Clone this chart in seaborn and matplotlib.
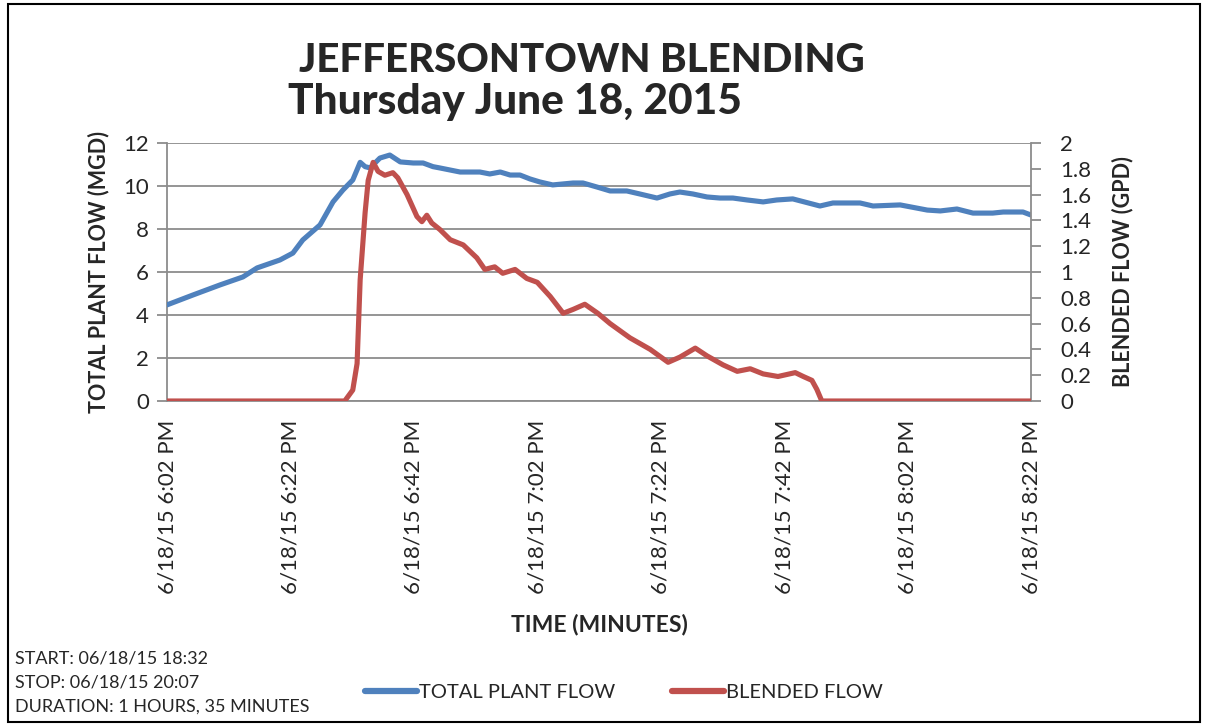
import matplotlib
matplotlib.use("Agg")
import matplotlib.pyplot as plt
import seaborn as sns
import pandas as pd
from matplotlib.lines import Line2D
from matplotlib.patches import Rectangle

# ---- data (minutes after 6:02 PM) ----
plant_minutes = [0.0, 4.2, 8.6, 12.3, 14.6, 18.3, 20.4, 22.0, 24.8, 26.9, 28.5, 30.1,
                 31.3, 32.1, 32.9, 34.5, 36.1, 37.8, 39.9, 41.5, 43.1, 44.2, 47.5,
                 50.7, 52.3, 54.0, 55.6, 57.2, 58.8, 60.4, 62.5, 65.8, 67.4, 69.7,
                 71.8, 74.5, 76.6, 79.4, 81.5, 83.1, 85.2, 87.5, 89.6, 91.7, 94.0,
                 96.6, 98.8, 101.4, 105.8, 107.9, 112.3, 114.4, 118.8, 123.2, 125.3,
                 128.0, 130.6, 133.8, 135.5, 138.7, 140.0]
plant_flow = [4.47, 4.93, 5.40, 5.77, 6.19, 6.56, 6.88, 7.49, 8.19, 9.26, 9.81, 10.28,
              11.10, 10.90, 10.84, 11.30, 11.44, 11.12, 11.07, 11.07, 10.90, 10.84, 10.65,
              10.65, 10.56, 10.65, 10.51, 10.51, 10.33, 10.19, 10.05, 10.14, 10.14, 9.95,
              9.77, 9.77, 9.63, 9.44, 9.63, 9.72, 9.63, 9.49, 9.44, 9.44, 9.35,
              9.26, 9.35, 9.40, 9.07, 9.21, 9.21, 9.07, 9.12, 8.88, 8.84,
              8.93, 8.74, 8.74, 8.79, 8.79, 8.65]

blend_minutes = [0.0, 28.8, 30.1, 30.8, 31.3, 32.1, 32.6, 33.4, 34.2, 35.3, 36.6, 37.4,
                 38.9, 40.5, 41.3, 42.1, 42.9, 44.2, 45.9, 48.0, 50.2, 51.5, 53.1,
                 54.4, 56.4, 58.3, 60.0, 62.1, 64.2, 65.8, 67.7, 69.8, 71.8, 75.0,
                 78.3, 81.2, 83.1, 85.6, 87.5, 90.1, 92.4, 94.5, 96.6, 99.0, 101.8,
                 103.1, 104.5, 105.3, 106.1, 140.0]
blend_flow = [0.0, 0.0, 0.085, 0.29, 0.94, 1.46, 1.71, 1.85, 1.78, 1.75, 1.77, 1.73,
              1.60, 1.43, 1.39, 1.44, 1.38, 1.33, 1.25, 1.21, 1.11, 1.02, 1.04,
              0.99, 1.02, 0.95, 0.92, 0.81, 0.68, 0.71, 0.75, 0.68, 0.60, 0.49,
              0.40, 0.30, 0.34, 0.41, 0.35, 0.28, 0.23, 0.25, 0.21, 0.19, 0.22,
              0.19, 0.16, 0.09, 0.0, 0.0]

x_ticks = [0, 20, 40, 60, 80, 100, 120, 140]
x_tick_labels = ["6/18/15 6:02 PM", "6/18/15 6:22 PM", "6/18/15 6:42 PM",
                 "6/18/15 7:02 PM", "6/18/15 7:22 PM", "6/18/15 7:42 PM",
                 "6/18/15 8:02 PM", "6/18/15 8:22 PM"]
left_ticks = [0, 2, 4, 6, 8, 10, 12]
right_ticks = [0, 0.2, 0.4, 0.6, 0.8, 1, 1.2, 1.4, 1.6, 1.8, 2]
right_tick_labels = ["0", "0.2", "0.4", "0.6", "0.8", "1", "1.2", "1.4", "1.6", "1.8", "2"]

BLUE = "#4F81BD"
RED = "#C0504D"
GRID = "#8C8C8C"

sns.set_style("white")
plt.rcParams["font.family"] = ["Lato", "DejaVu Sans"]

fig = plt.figure(figsize=(12.08, 7.25), dpi=100)
ax = fig.add_axes([167 / 1208, 1 - 401 / 725, (1031 - 167) / 1208, (401 - 143) / 725])
ax2 = ax.twinx()

df_p = pd.DataFrame({"t": plant_minutes, "v": plant_flow})
df_b = pd.DataFrame({"t": blend_minutes, "v": blend_flow})

sns.lineplot(data=df_p, x="t", y="v", ax=ax, color=BLUE, linewidth=3.7, zorder=3)
sns.lineplot(data=df_b, x="t", y="v", ax=ax2, color=RED, linewidth=3.7, zorder=3)
for a in (ax, ax2):
    for ln in a.get_lines():
        ln.set_solid_joinstyle("round")
        ln.set_solid_capstyle("round")

ax.set_xlim(0, 140)
ax.set_ylim(0, 12)
ax2.set_ylim(0, 2)
ax.set_xticks(x_ticks)
ax.set_xticklabels(x_tick_labels, rotation=90, fontsize=16)
ax.set_yticks(left_ticks)
ax.set_yticklabels([str(v) for v in left_ticks], fontsize=16)
ax2.set_yticks(right_ticks)
ax2.set_yticklabels(right_tick_labels, fontsize=16)

ax.yaxis.grid(True, color=GRID, linewidth=1.3)
ax.xaxis.grid(False)
ax2.grid(False)

for a in (ax, ax2):
    for s in a.spines.values():
        s.set_visible(False)
ax.spines["left"].set_visible(True)
ax.spines["left"].set_color(GRID)
ax.spines["left"].set_linewidth(1.3)
ax.spines["bottom"].set_visible(True)
ax.spines["bottom"].set_color(GRID)
ax.spines["bottom"].set_linewidth(1.3)
ax2.spines["right"].set_visible(True)
ax2.spines["right"].set_color(GRID)
ax2.spines["right"].set_linewidth(1.3)

ax.tick_params(axis="y", which="both", left=True, length=7, width=1.3, color=GRID, pad=6)
ax.tick_params(axis="x", bottom=False, pad=10)
ax2.tick_params(axis="y", right=True, length=7, width=1.3, color=GRID, pad=14)

ax.set_xlabel("TIME (MINUTES)", fontsize=16.5, fontweight="bold", labelpad=14)
ax.set_ylabel("TOTAL PLANT FLOW (MGD)", fontsize=15.5, fontweight="bold", labelpad=10)
ax2.set_ylabel("BLENDED FLOW (GPD)", fontsize=15.5, fontweight="bold", labelpad=15)

fig.text(582 / 1208, 1 - 60 / 725, "JEFFERSONTOWN BLENDING", fontsize=29,
         fontweight="black", ha="center", va="center")
fig.text(515 / 1208, 1 - 102 / 725, "Thursday June 18, 2015", fontsize=30.5,
         fontweight="black", ha="center", va="center")

fig.text(15 / 1208, 1 - 659 / 725, "START: 06/18/15 18:32", fontsize=13, va="center")
fig.text(15 / 1208, 1 - 682 / 725, "STOP: 06/18/15 20:07", fontsize=13, va="center")
fig.text(15 / 1208, 1 - 707 / 725, "DURATION: 1 HOURS, 35 MINUTES", fontsize=13, va="center")

handles = [Line2D([0], [0], color=BLUE, linewidth=4.5),
           Line2D([0], [0], color=RED, linewidth=4.5)]
fig.legend(handles, ["TOTAL PLANT FLOW", "BLENDED FLOW"], loc="center",
           bbox_to_anchor=(624 / 1208, 1 - 692 / 725), ncol=2, frameon=False,
           fontsize=14.5, handlelength=2.6, handletextpad=0.1, columnspacing=2.8)

fig.patches.append(Rectangle((8 / 1208, 3 / 725), 1192 / 1208, 718 / 725,
                             transform=fig.transFigure, fill=False,
                             edgecolor="black", linewidth=1.5))

fig.savefig("out.png", dpi=100)
